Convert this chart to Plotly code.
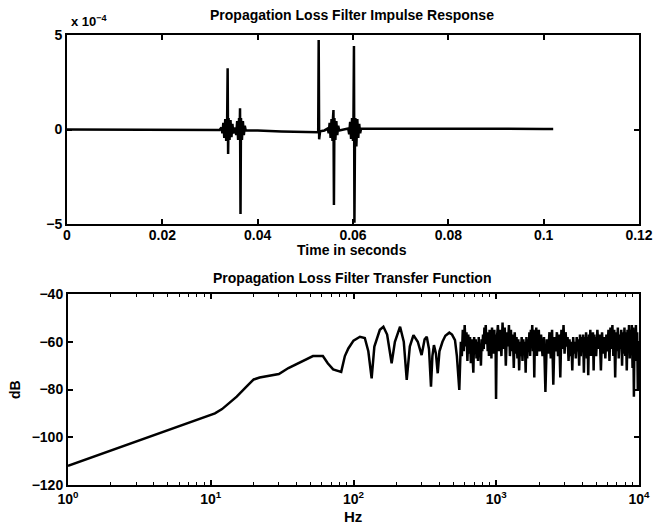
import plotly.graph_objects as go

# ---------------- Top: impulse response (units of 1e-4) ----------------
t_sec = [0.0, 0.01, 0.02, 0.03, 0.032,
         0.0324, 0.0326, 0.0328, 0.0330, 0.0332, 0.0334, 0.0336, 0.0337, 0.0338, 0.0339, 0.0341, 0.0343, 0.0345, 0.0347, 0.0349, 0.0351,
         0.0353, 0.0355, 0.0357, 0.0359, 0.0361, 0.0362, 0.0363, 0.0364, 0.0365, 0.0367, 0.0369, 0.0371, 0.0373, 0.0375,
         0.040, 0.045, 0.050, 0.0525,
         0.0527, 0.0528, 0.0529, 0.0531, 0.0540,
         0.0547, 0.0549, 0.0551, 0.0553, 0.0555, 0.0557, 0.0558, 0.0559, 0.0560, 0.0561, 0.0563, 0.0565, 0.0567, 0.0569, 0.0571,
         0.0590, 0.0592, 0.0594, 0.0596, 0.0598, 0.0600, 0.0601, 0.0602, 0.0603, 0.0604, 0.0605, 0.0607, 0.0609, 0.0611, 0.0613, 0.0615, 0.0617,
         0.065, 0.070, 0.080, 0.090, 0.100, 0.102]
h_e4 = [0.0, 0.0, 0.0, -0.02, -0.03,
        0.1, -0.2, 0.35, -0.45, 0.55, -0.6, 0.6, 3.24, -1.3, 0.6, -0.55, 0.5, -0.4, 0.3, -0.2, 0.05,
        0.1, -0.3, 0.45, -0.55, 0.6, -0.5, 1.12, -4.47, 0.6, -0.55, 0.45, -0.3, 0.2, -0.05,
        -0.05, -0.1, -0.15, -0.15,
        -0.15, 4.74, -0.52, -0.1, -0.05,
        0.05, -0.2, 0.35, -0.45, 0.55, -0.6, 0.6, 1.03, -4.0, 0.6, -0.55, 0.45, -0.3, 0.2, -0.05,
        0.05, -0.25, 0.4, -0.5, 0.6, -0.6, 0.6, 4.42, -4.93, -1.0, 0.6, -0.9, 0.55, -0.45, 0.3, -0.2, 0.05,
        0.05, 0.08, 0.06, 0.04, 0.02, 0.02]

# ---------------- Bottom: transfer function ----------------
freq_smooth = [1, 1.5, 2, 3, 4, 5, 7, 9, 10.7, 12, 15.2, 18, 20, 22, 26, 30, 35, 41, 46, 52, 61, 66, 72, 82, 87, 92,
               100, 111, 120, 127, 134, 140, 153, 162, 172, 185, 195, 212, 225, 236, 248, 263, 282, 300, 315, 326,
               338, 349, 357, 366, 378, 389, 400, 420, 440, 469, 490, 514, 530, 551]
db_smooth = [-112, -108.2, -105.5, -101.7, -99, -97, -93.8, -91.3, -90, -88.2, -83, -78.5, -75.8, -75, -74.2, -73.5,
             -71, -69, -67.3, -66, -66, -69, -71.6, -72.6, -66, -62.8,
             -59.5, -57.9, -58.4, -64, -75.3, -62, -55, -53.7, -57, -69, -60, -53.7, -60, -76, -62, -57.2, -60, -65.6,
             -59, -57.9, -63, -78.8, -66, -61.4, -65, -73.2, -64, -60, -57.5, -56.2, -57, -59.3, -66, -80.2]

freq_noise = [565, 574, 583, 592, 601, 610, 619, 628, 637, 646, 655, 664, 673, 682, 691, 700, 709, 718, 727, 736,
              745, 754, 763, 772, 781, 790, 799, 808, 817, 826, 835, 844, 853, 862, 871, 880, 889, 898, 907, 916,
              925, 934, 943, 952, 961, 970, 979, 988, 997,
              1007, 1027, 1047, 1067, 1087, 1107, 1127, 1147, 1167, 1187, 1207, 1227, 1247, 1267, 1287, 1307, 1327,
              1347, 1367, 1387, 1407, 1427, 1447, 1467, 1487, 1507, 1527, 1547, 1567, 1587, 1607, 1627, 1647, 1667,
              1687, 1707, 1727, 1747, 1767, 1787, 1807, 1827, 1847, 1867, 1887, 1907, 1927, 1947, 1967, 1987,
              2010, 2060, 2110, 2160, 2210, 2260, 2310, 2360, 2410, 2460, 2510, 2560, 2610, 2660, 2710, 2760, 2810,
              2860, 2910, 2960, 3010, 3060, 3110, 3160, 3210, 3260, 3310, 3360, 3410, 3460, 3510, 3560, 3610, 3660,
              3710, 3760, 3810, 3860, 3910, 3960, 4010, 4060, 4110, 4160, 4210, 4260, 4310, 4360, 4410, 4460, 4510,
              4560, 4610, 4660, 4710, 4760, 4810, 4860, 4910, 4960,
              5010, 5110, 5210, 5310, 5410, 5510, 5610, 5710, 5810, 5910, 6010, 6110, 6210, 6310, 6410, 6510, 6610,
              6710, 6810, 6910, 7010, 7110, 7210, 7310, 7410, 7510, 7610, 7710, 7810, 7910, 8010, 8110, 8210, 8310,
              8410, 8510, 8610, 8710, 8810, 8910, 9010, 9110, 9210, 9310, 9410, 9510, 9610, 9710, 9810, 9910, 10000]
db_noise = [-60, -66, -55, -64, -53, -62, -56, -68, -57, -65, -58, -69, -59, -66, -73, -58, -65, -59, -67, -60,
            -68, -58, -66, -61, -70, -59, -64, -57, -63, -54, -60, -53, -61, -56, -64, -58, -66, -55, -63, -57,
            -67, -54, -62, -56, -65, -55, -63, -57, -84,
            -60, -53, -64, -55, -66, -52, -63, -54, -70, -56, -62, -53, -66, -55, -64, -57, -71,
            -56, -65, -58, -67, -59, -72, -60, -66, -58, -68, -59, -65, -60, -73, -58, -67, -59,
            -64, -56, -66, -55, -62, -53, -64, -55, -75, -56, -63, -54, -66, -57, -62, -55,
            -64, -57, -66, -58, -81, -59, -65, -56, -67, -55, -78, -58, -64, -56, -66, -57, -75,
            -55, -63, -53, -65, -56, -62, -58, -68, -59, -66, -60, -72, -58, -65, -60, -67, -58,
            -64, -59, -70, -57, -66, -58, -64, -57, -73, -58, -65, -56, -67, -58, -74, -57, -64,
            -55, -66, -58, -63, -56, -72, -57, -65, -58,
            -66, -55, -63, -57, -72, -56, -65, -58, -67, -57, -64, -55, -68, -54, -63, -53, -66,
            -55, -75, -56, -64, -54, -67, -57, -63, -55, -70, -56, -65, -54, -66, -56, -72, -55,
            -64, -53, -67, -55, -65, -53, -71, -54, -83, -55, -66, -53, -68, -56, -80, -60, -66]

top_xticks = [0, 0.02, 0.04, 0.06, 0.08, 0.1, 0.12]
top_xticktext = ["0", "0.02", "0.04", "0.06", "0.08", "0.1", "0.12"]
top_yticks = [-5, 0, 5]
top_yticktext = ["−5", "0", "5"]
bot_yticks = [-120, -100, -80, -60, -40]
bot_yticktext = ["−120", "−100", "−80", "−60", "−40"]
bot_xticks = [1, 10, 100, 1000, 10000]
bot_xticktext = ["10<sup>0</sup>", "10<sup>1</sup>", "10<sup>2</sup>", "10<sup>3</sup>", "10<sup>4</sup>"]
bot_minor = [m * d for d in (1, 10, 100, 1000) for m in range(2, 10)]

W, H = 653, 525
FONT = "Liberation Sans, Arial, Helvetica, sans-serif"

def px_x(x):
    return x / W

def px_y(y):
    return 1 - y / H

fig = go.Figure()
fig.add_trace(go.Scatter(x=t_sec, y=h_e4, mode="lines", line=dict(color="black", width=2.5),
                         xaxis="x", yaxis="y", showlegend=False))
fig.add_trace(go.Scatter(x=freq_smooth + freq_noise, y=db_smooth + db_noise, mode="lines",
                         line=dict(color="black", width=2.5), xaxis="x2", yaxis="y2", showlegend=False))

axis_common = dict(showline=True, mirror="ticks", linecolor="black", linewidth=2, ticks="inside",
                   ticklen=5, tickwidth=1.5, tickcolor="black", showgrid=False, zeroline=False,
                   automargin=False,
                   tickfont=dict(family=FONT, size=14, color="black", weight="bold"))

fig.update_layout(
    width=W, height=H,
    margin=dict(l=0, r=0, t=0, b=0, autoexpand=False),
    paper_bgcolor="white", plot_bgcolor="white",
    xaxis=dict(domain=[px_x(67), px_x(639)], range=[0, 0.12], tickvals=top_xticks, ticktext=top_xticktext,
               anchor="y", ticklabelstandoff=-3, **axis_common),
    yaxis=dict(domain=[px_y(224), px_y(35)], range=[-5, 5], tickvals=top_yticks,
               ticktext=top_yticktext, anchor="x", **axis_common),
    xaxis2=dict(domain=[px_x(68), px_x(639)], type="log", range=[0, 4], tickvals=bot_xticks,
                ticktext=bot_xticktext, anchor="y2",
                minor=dict(tickvals=bot_minor, ticks="inside", ticklen=3, tickcolor="black", tickwidth=1),
                **axis_common),
    yaxis2=dict(domain=[px_y(485), px_y(294)], range=[-120, -40], tickvals=bot_yticks,
                ticktext=bot_yticktext, anchor="x2", **axis_common),
)

ann_font = dict(family=FONT, size=14, color="black", weight="bold")
fig.add_annotation(text="Propagation Loss Filter Impulse Response", x=px_x(352), y=px_y(15),
                   xref="paper", yref="paper", showarrow=False, font=ann_font, xanchor="center", yanchor="middle")
fig.add_annotation(text="x 10<sup>−4</sup>", x=px_x(69), y=px_y(21), xref="paper", yref="paper",
                   showarrow=False, font=dict(family=FONT, size=13, color="black", weight="bold"),
                   xanchor="left", yanchor="middle")
fig.add_annotation(text="Time in seconds", x=px_x(352), y=px_y(250), xref="paper", yref="paper",
                   showarrow=False, font=ann_font, xanchor="center", yanchor="middle")
fig.add_annotation(text="Propagation Loss Filter Transfer Function", x=px_x(352), y=px_y(278),
                   xref="paper", yref="paper", showarrow=False, font=ann_font, xanchor="center", yanchor="middle")
fig.add_annotation(text="Hz", x=px_x(353), y=px_y(516), xref="paper", yref="paper",
                   showarrow=False, font=dict(family=FONT, size=15, color="black", weight="bold"),
                   xanchor="center", yanchor="middle")
fig.add_annotation(text="dB", x=px_x(15), y=px_y(390), xref="paper", yref="paper", textangle=-90,
                   showarrow=False, font=ann_font, xanchor="center", yanchor="middle")

fig.write_html("out.html", config={"displayModeBar": False},
               post_script="document.body.style.margin='0';document.body.style.overflow='hidden';")
